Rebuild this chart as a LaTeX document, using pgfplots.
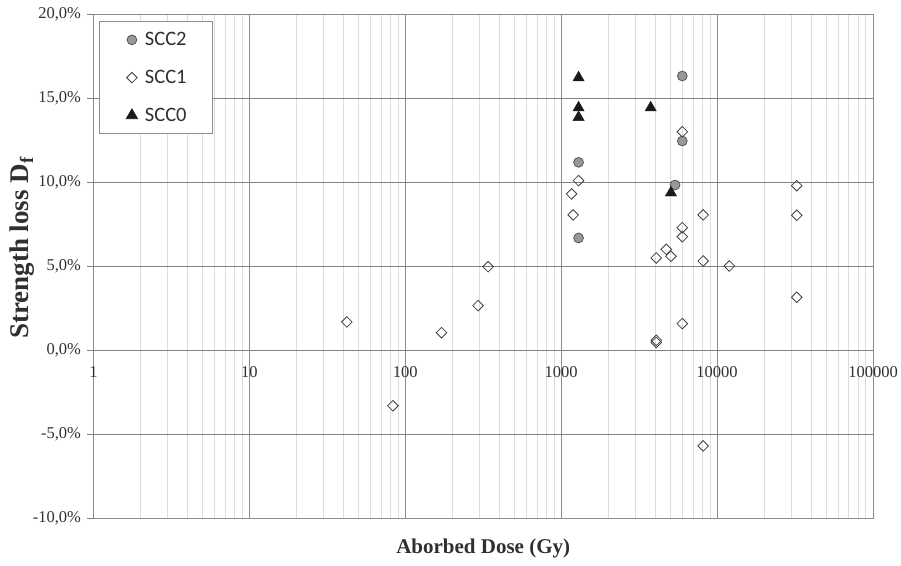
\documentclass[border=0pt]{standalone}
\usepackage{pgfplots}
\pgfplotsset{compat=1.18}
\usepackage{fontspec}
\setmainfont{Liberation Serif}
\newfontfamily\legendfont{Carlito}
\definecolor{majgrid}{HTML}{8C8C8C}
\definecolor{hgrid}{HTML}{808080}
\definecolor{mingrid}{HTML}{DCDCDC}
\definecolor{circfill}{HTML}{989898}
\definecolor{circedge}{HTML}{555555}
\definecolor{diaedge}{HTML}{404040}
\definecolor{triblack}{HTML}{1A1A1A}
\definecolor{ticktext}{HTML}{303030}
\begin{document}
\begin{tikzpicture}
\useasboundingbox (-93.4pt,-47pt) rectangle (807.6pt,518pt);
\begin{axis}[
  at={(0pt,0pt)}, anchor=south west,
  scale only axis, width=779.6pt, height=504pt,
  xmode=log, xmin=1, xmax=100000, ymin=-10, ymax=20,
  xtick={1,10,100,1000,10000,100000},
  xticklabels={1,10,100,1000,10000,100000},
  minor xtick={2,3,4,5,6,7,8,9,20,30,40,50,60,70,80,90,200,300,400,500,600,700,800,900,2000,3000,4000,5000,6000,7000,8000,9000,20000,30000,40000,50000,60000,70000,80000,90000},
  ytick={-10,-5,0,5,10,15,20},
  yticklabels={{-10,0\%},{-5,0\%},{0,0\%},{5,0\%},{10,0\%},{15,0\%},{20,0\%}},
  ytick pos=left,
  tick align=outside,
  major tick length=6pt,
  minor tick length=0pt,
  xtick style={draw=none},
  ytick style={draw=hgrid, line width=0.8pt},
  xmajorgrids=true, xminorgrids=true, ymajorgrids=true,
  x grid style={draw=majgrid, line width=0.8pt},
  minor x grid style={draw=mingrid, line width=0.8pt},
  y grid style={draw=hgrid, line width=0.9pt},
  axis line style={draw=majgrid, line width=0.9pt},
  ticklabel style={font=\fontsize{16.5}{20}\selectfont, text=ticktext},
  xticklabel style={yshift=161pt},
  yticklabel style={xshift=-3pt},
  xlabel={\textbf{Aborbed Dose (Gy)}},
  xlabel style={at={(axis description cs:0.5,0)}, anchor=center, yshift=-30pt, font=\fontsize{21}{25}\selectfont, text=ticktext},
  ylabel={\textbf{Strength loss D\textsubscript{f}}},
  ylabel style={at={(axis description cs:0,0.536)}, anchor=center, yshift=71.4pt, font=\fontsize{27}{32}\selectfont, text=ticktext},
  legend style={at={(axis description cs:0.0072,0.986)}, anchor=north west,
    draw=majgrid, line width=0.8pt, fill=white,
    font=\legendfont\fontsize{20.5}{24}\selectfont, text=ticktext,
    inner xsep=24pt, inner ysep=9pt, row sep=19pt},
  legend cell align=left,
  legend image code/.code={\path[draw=none,fill=none] (0pt,0pt) -- (19.5pt,0pt); \draw[#1] plot coordinates {(8.5pt,0pt)};},
]
\addplot[only marks, mark=*, mark size=4.9pt, mark options={fill=circfill, draw=circedge, line width=0.8pt}] coordinates {
(1293,11.17) (1293,6.67) (5981,16.31) (5981,12.44) (5375,9.82)
};
\addlegendentry{SCC2}
\addplot[only marks, mark=square, mark size=3.75pt, mark options={rotate=45, fill=white, draw=diaedge, line width=0.8pt}] coordinates {
(42.2,1.67) (83.4,-3.32) (170.8,1.03) (293,2.64) (340,4.96)
(1166,9.29) (1293,10.08) (1194,8.04)
(5981,12.99) (5981,7.28) (5981,6.74)
(8144,8.04) (8144,5.30)
(4720,5.99) (5060,5.58) (4074,5.48)
(11980,5.00)
(32430,9.78) (32430,8.02) (32430,3.14)
(5981,1.57) (4074,0.45) (4074,0.58)
(8144,-5.71)
};
\addlegendentry{SCC1}
\addplot[only marks, mark=triangle*, mark size=6.5pt, mark options={fill=triblack, draw=triblack}] coordinates {
(1293,16.21) (1293,14.42) (1293,13.85) (3750,14.42) (5060,9.36)
};
\addlegendentry{SCC0}
\end{axis}
\end{tikzpicture}
\end{document}
